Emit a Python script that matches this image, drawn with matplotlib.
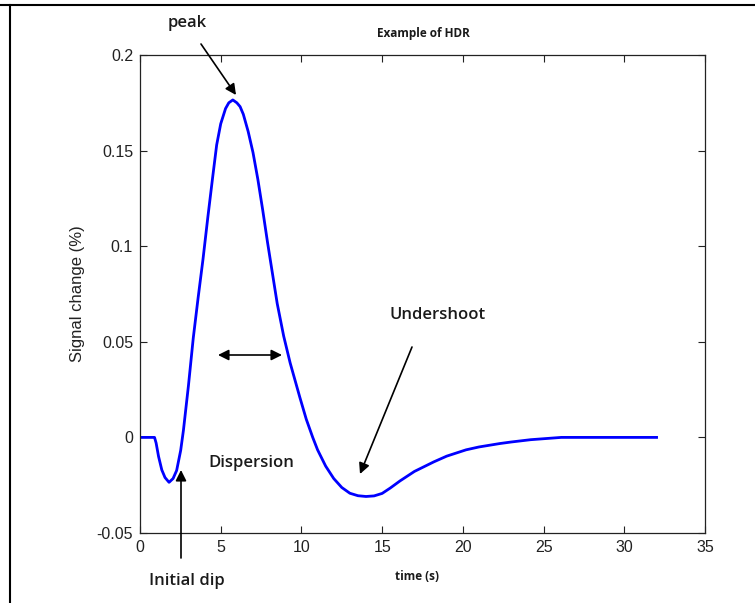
import matplotlib
matplotlib.use("Agg")
import matplotlib.pyplot as plt
from matplotlib.lines import Line2D
from matplotlib.patches import FancyArrowPatch

# ---- data ----
time_s = [0, 0.9, 1.0, 1.15, 1.35, 1.55, 1.8, 2.05, 2.27, 2.52, 2.69, 3.0,
          3.3, 3.6, 3.9, 4.2, 4.5, 4.75, 5.0, 5.3, 5.5, 5.75, 6.0, 6.2, 6.4,
          6.7, 7.0, 7.3, 7.6, 7.9, 8.2, 8.5, 8.9, 9.3, 9.9, 10.3, 10.7, 11.0,
          11.5, 12.0, 12.5, 13.0, 13.5, 14.0, 14.5, 15.0, 15.5, 16.1, 17.0,
          18.2, 19.0, 20.2, 21.0, 22.3, 23.0, 24.2, 26.1, 28.0, 30.0, 32.0]
signal = [0, 0, -0.003, -0.010, -0.017, -0.021, -0.0235, -0.0215, -0.0173,
          -0.0068, 0.0037, 0.027, 0.052, 0.073, 0.093, 0.115, 0.136, 0.153,
          0.164, 0.172, 0.175, 0.1765, 0.175, 0.173, 0.169, 0.160, 0.149,
          0.135, 0.119, 0.102, 0.086, 0.070, 0.053, 0.039, 0.021, 0.0095,
          0.0, -0.0065, -0.0150, -0.0215, -0.0262, -0.0292, -0.0305, -0.0309,
          -0.0306, -0.0293, -0.0265, -0.0228, -0.0178, -0.0128, -0.0098,
          -0.0065, -0.0050, -0.0032, -0.0024, -0.0012, 0, 0, 0, 0]
xticks = [0, 5, 10, 15, 20, 25, 30, 35]
yticks = [-0.05, 0, 0.05, 0.1, 0.15, 0.2]
ytick_labels = ["-0.05", "0", "0.05", "0.1", "0.15", "0.2"]

W, H = 755, 603
fig = plt.figure(figsize=(W / 100, H / 100), dpi=100)
ax = fig.add_axes([140 / W, 1 - 533 / H, 565 / W, 478 / H])

ax.plot(time_s, signal, color="#0000ff", lw=2.0, solid_joinstyle="round")
ax.set_xlim(0, 35)
ax.set_ylim(-0.05, 0.2)
ax.set_xticks(xticks)
ax.set_xticklabels([str(v) for v in xticks])
ax.set_yticks(yticks)
ax.set_yticklabels(ytick_labels)
ax.tick_params(direction="in", length=5, width=0.8, top=True, right=True,
               labelsize=11.5, pad=5, colors="#222222")
for lab in ax.get_xticklabels() + ax.get_yticklabels():
    lab.set_family("Liberation Sans")
for s in ax.spines.values():
    s.set_linewidth(0.9)
    s.set_color("#222222")
ax.set_ylabel("Signal change (%)", family="Liberation Sans", fontsize=12,
              color="#222222", labelpad=8)

def fx(px):
    return px / W

def fy(py):
    return 1 - py / H

ann_font = dict(family="Open Sans", color="#1a1a1a")
fig.text(fx(187), fy(23), "peak", ha="center", va="center", fontsize=12,
         weight="semibold", **ann_font)
fig.text(fx(423), fy(33), "Example of HDR", ha="center", va="center",
         fontsize=8.5, weight="bold", **ann_font)
fig.text(fx(438), fy(315), "Undershoot", ha="center", va="center",
         fontsize=12, weight="semibold", **ann_font)
fig.text(fx(251), fy(463), "Dispersion", ha="center", va="center",
         fontsize=12, weight="semibold", **ann_font)
fig.text(fx(187), fy(581), "Initial dip", ha="center", va="center",
         fontsize=12, weight="semibold", **ann_font)
fig.text(fx(417), fy(577), "time (s)", ha="center", va="center",
         fontsize=8.5, weight="bold", **ann_font)

def arrow(x0, y0, x1, y1, style="-|>"):
    fig.add_artist(FancyArrowPatch(
        (fx(x0), fy(y0)), (fx(x1), fy(y1)), transform=fig.transFigure,
        arrowstyle=style, mutation_scale=16, lw=1.2, color="black",
        shrinkA=0, shrinkB=0))

arrow(201, 44, 236, 95)
arrow(412, 347, 360, 474)
arrow(181, 558, 181, 470)
arrow(218, 355, 282, 355, style="<|-|>")

# figure border (top and left)
fig.add_artist(Line2D([0, 1], [fy(5), fy(5)], transform=fig.transFigure,
                      color="black", lw=1.5))
fig.add_artist(Line2D([fx(10), fx(10)], [0, fy(5)], transform=fig.transFigure,
                      color="black", lw=1.5))

fig.savefig("out.png", dpi=100)
